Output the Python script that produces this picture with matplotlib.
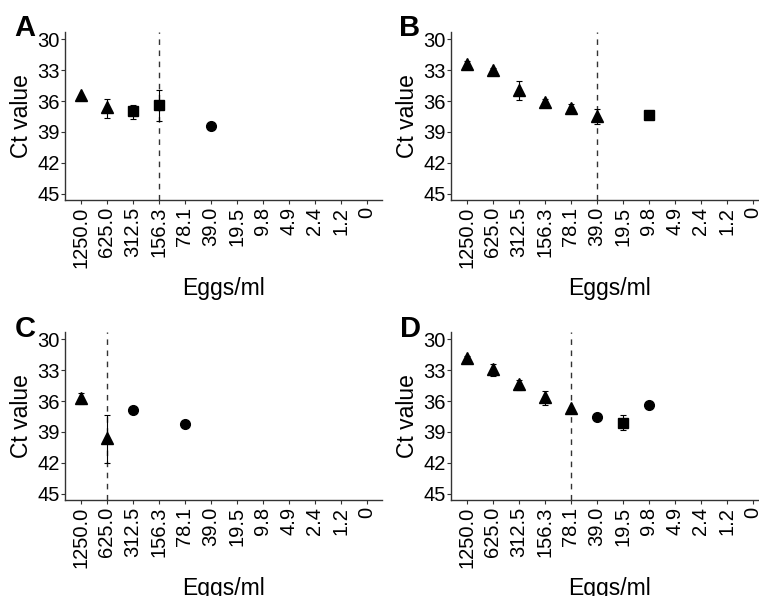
import matplotlib
matplotlib.use("Agg")
import matplotlib.pyplot as plt

plt.rcParams["font.family"] = ["Liberation Sans", "DejaVu Sans"]

categories = ["1250.0", "625.0", "312.5", "156.3", "78.1", "39.0",
              "19.5", "9.8", "4.9", "2.4", "1.2", "0"]

# panel A
a_cat = [0, 1, 2, 3, 5]
a_ct = [35.4, 36.6, 37.0, 36.4, 38.4]
a_lo = [35.4, 35.8, 36.35, 34.9, 38.4]
a_hi = [35.4, 37.6, 37.7, 37.9, 38.4]
a_shape = ["^", "^", "s", "s", "o"]
a_cut = 3

# panel B
b_cat = [0, 1, 2, 3, 4, 5, 7]
b_ct = [32.4, 33.0, 34.9, 36.1, 36.7, 37.45, 37.4]
b_lo = [32.15, 32.8, 34.05, 35.8, 36.3, 36.8, 37.4]
b_hi = [32.6, 33.2, 35.9, 36.5, 37.2, 38.2, 37.4]
b_shape = ["^", "^", "^", "^", "^", "^", "s"]
b_cut = 5

# panel C
c_cat = [0, 1, 2, 4]
c_ct = [35.75, 39.6, 36.9, 38.2]
c_lo = [35.25, 37.35, 36.9, 38.2]
c_hi = [36.3, 42.0, 36.9, 38.2]
c_shape = ["^", "^", "o", "o"]
c_cut = 1

# panel D
d_cat = [0, 1, 2, 3, 4, 5, 6, 7]
d_ct = [31.8, 32.9, 34.35, 35.65, 36.65, 37.5, 38.1, 36.4]
d_lo = [31.65, 32.4, 33.95, 35.0, 36.65, 37.5, 37.4, 36.4]
d_hi = [31.95, 33.6, 34.9, 36.4, 36.65, 37.5, 38.8, 36.4]
d_shape = ["^", "^", "^", "^", "^", "o", "s", "o"]
d_cut = 4

W, H = 759, 596
fig = plt.figure(figsize=(W / 100, H / 100), dpi=100)


def box(left, top, right, bottom):
    return [left / W, 1 - bottom / H, (right - left) / W, (bottom - top) / H]


def panel(rect, letter, letter_xy, cat, ct, lo, hi, shape, cut):
    ax = fig.add_axes(box(*rect))
    ax.axvline(cut, color="#333333", lw=1.0, ls=(0, (4, 4)), zorder=1)
    sizes = {"^": 9, "s": 6.5, "o": 7}
    for x, y, l, h, m in zip(cat, ct, lo, hi, shape):
        if h - l > 0:
            ax.errorbar([x], [y], yerr=[[y - l], [h - y]], fmt="none",
                        ecolor="black", elinewidth=0.8, capsize=2.2,
                        capthick=0.8, zorder=2)
        ax.plot([x], [y], marker=m, ms=sizes[m], color="black", ls="none", zorder=3)
    ax.set_xlim(-0.6, len(categories) - 0.4)
    ax.set_ylim(45.6, 29.3)
    ax.set_xticks(range(len(categories)))
    ax.set_xticklabels(categories, rotation=90, fontsize=14.5)
    ax.set_yticks([30, 33, 36, 39, 42, 45])
    ax.tick_params(axis="y", labelsize=14.5, length=3, width=0.8, color="#333333", pad=1)
    ax.tick_params(axis="x", length=3, width=0.8, color="#333333", pad=2)
    for s in ["top", "right"]:
        ax.spines[s].set_visible(False)
    for s in ["left", "bottom"]:
        ax.spines[s].set_color("#333333")
        ax.spines[s].set_linewidth(1.0)
    ax.set_ylabel("Ct value", fontsize=16.5, labelpad=3)
    ax.set_xlabel("Eggs/ml", fontsize=16.5, labelpad=6)
    fig.text(letter_xy[0] / W, 1 - letter_xy[1] / H, letter, fontsize=21,
             fontweight="bold", ha="left", va="baseline")
    return ax


panel((65.4, 32, 382.3, 200), "A", (14, 36), a_cat, a_ct, a_lo, a_hi, a_shape, a_cut)
panel((451.1, 32, 768.3, 200), "B", (399, 36), b_cat, b_ct, b_lo, b_hi, b_shape, b_cut)
panel((65.4, 332, 382.3, 500), "C", (15, 337), c_cat, c_ct, c_lo, c_hi, c_shape, c_cut)
panel((451.1, 332, 768.3, 500), "D", (400, 337), d_cat, d_ct, d_lo, d_hi, d_shape, d_cut)

fig.savefig("out.png", dpi=100)
